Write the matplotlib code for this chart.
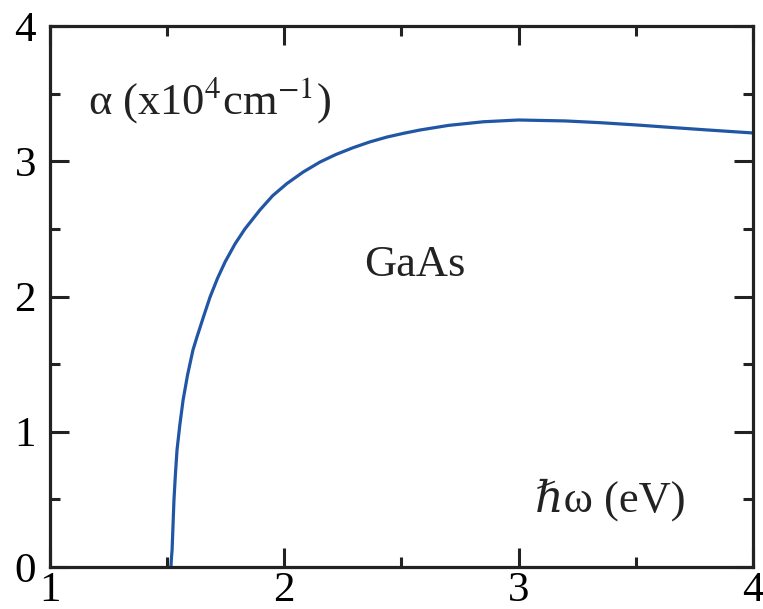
import matplotlib
matplotlib.use("Agg")
import matplotlib.pyplot as plt
from matplotlib.ticker import MultipleLocator

# photon energy (eV) and absorption coefficient (x10^4 cm^-1)
energy = [1.516, 1.518, 1.521, 1.525, 1.529, 1.535, 1.542, 1.554, 1.568, 1.587,
          1.610, 1.627, 1.655, 1.683, 1.715, 1.747, 1.790, 1.832, 1.896, 1.950,
          2.011, 2.080, 2.152, 2.220, 2.293, 2.365, 2.438, 2.510, 2.579, 2.700,
          2.850, 3.000, 3.200, 3.350, 3.505, 3.650, 3.800, 4.000]
alpha = [0.0, 0.06, 0.126, 0.31, 0.495, 0.68, 0.865, 1.05, 1.235, 1.42,
         1.604, 1.70, 1.85, 1.996, 2.135, 2.255, 2.39, 2.50, 2.64, 2.745,
         2.835, 2.92, 2.994, 3.05, 3.10, 3.143, 3.179, 3.207, 3.231, 3.265,
         3.292, 3.305, 3.298, 3.285, 3.268, 3.250, 3.232, 3.209]

xticks = [1, 2, 3, 4]
yticks = [0, 1, 2, 3, 4]

plt.rcParams['font.family'] = ['Liberation Serif', 'DejaVu Serif']
plt.rcParams['mathtext.fontset'] = 'stix'

fig = plt.figure(figsize=(7.63, 6.09), dpi=100)
ax = fig.add_axes([50 / 763, 42 / 609, 703 / 763, 541 / 609])

ax.plot(energy, alpha, color='#2156a5', lw=2.3)

ax.set_xlim(1, 4)
ax.set_ylim(0, 4)
ax.set_xticks(xticks)
ax.set_yticks(yticks)
ax.xaxis.set_minor_locator(MultipleLocator(0.5))
ax.yaxis.set_minor_locator(MultipleLocator(0.5))
ax.tick_params(which='both', direction='in', top=True, right=True,
               width=2.2, color='#222222', labelsize=31)
ax.tick_params(which='major', length=14)
ax.tick_params(which='minor', length=7)
ax.tick_params(axis='x', pad=3)
ax.tick_params(axis='y', pad=10)
for s in ax.spines.values():
    s.set_linewidth(2.3)
    s.set_color('#222222')

ax.text(0.054, 0.863, r'α (x10$^4$cm$^{-1}$)', transform=ax.transAxes,
        fontsize=32, ha='left', va='center', color='#222222')
ax.text(0.519, 0.558, 'GaAs', transform=ax.transAxes,
        fontsize=32, ha='center', va='center', color='#222222')
ax.text(0.69, 0.124, 'ℏω (eV)', transform=ax.transAxes,
        fontsize=32, ha='left', va='center', color='#222222')

fig.savefig('out.png', dpi=100)
